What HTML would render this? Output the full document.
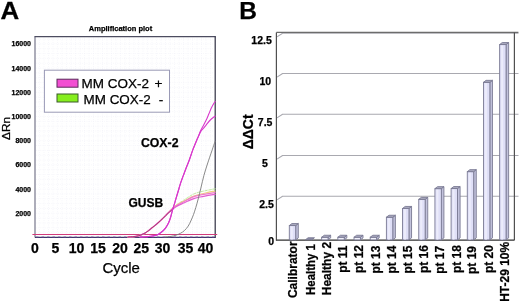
<!DOCTYPE html>
<html><head><meta charset="utf-8"><style>
html,body{margin:0;padding:0;background:#fff;}
svg{display:block;font-family:"Liberation Sans", sans-serif;will-change:transform;filter:blur(0.3px);}
text{stroke:#000;stroke-width:0.25px;paint-order:stroke;}
</style></head><body>
<svg width="520" height="305" viewBox="0 0 520 305">
<rect width="520" height="305" fill="#fff"/>
<text transform="translate(0.5,19.2) scale(1.07,1)" font-size="24.2" font-weight="bold">A</text>
<text x="239.2" y="19.2" font-size="24.5" font-weight="bold">B</text>
<text x="120.5" y="31" font-size="7.5" font-weight="bold" text-anchor="middle">Amplification plot</text>
<rect x="35" y="36.6" width="180.2" height="200.8" fill="#ffffff"/>
<path d="M39.5,37.6V236.4M44.0,37.6V236.4M48.5,37.6V236.4M53.0,37.6V236.4M57.5,37.6V236.4M62.0,37.6V236.4M66.5,37.6V236.4M71.0,37.6V236.4M75.5,37.6V236.4M80.0,37.6V236.4M84.5,37.6V236.4M89.0,37.6V236.4M93.5,37.6V236.4M98.0,37.6V236.4M102.5,37.6V236.4M107.0,37.6V236.4M111.5,37.6V236.4M116.0,37.6V236.4M120.5,37.6V236.4M125.0,37.6V236.4M129.5,37.6V236.4M134.0,37.6V236.4M138.5,37.6V236.4M143.0,37.6V236.4M147.5,37.6V236.4M152.0,37.6V236.4M156.5,37.6V236.4M161.0,37.6V236.4M165.5,37.6V236.4M170.0,37.6V236.4M174.5,37.6V236.4M179.0,37.6V236.4M183.5,37.6V236.4M188.0,37.6V236.4M192.5,37.6V236.4M197.0,37.6V236.4M201.5,37.6V236.4M206.0,37.6V236.4M210.5,37.6V236.4M36,232.7H214.2M36,227.8H214.2M36,223.0H214.2M36,218.1H214.2M36,213.3H214.2M36,208.5H214.2M36,203.6H214.2M36,198.8H214.2M36,193.9H214.2M36,189.1H214.2M36,184.3H214.2M36,179.4H214.2M36,174.6H214.2M36,169.7H214.2M36,164.9H214.2M36,160.1H214.2M36,155.2H214.2M36,150.4H214.2M36,145.5H214.2M36,140.7H214.2M36,135.9H214.2M36,131.0H214.2M36,126.2H214.2M36,121.3H214.2M36,116.5H214.2M36,111.7H214.2M36,106.8H214.2M36,102.0H214.2M36,97.1H214.2M36,92.3H214.2M36,87.5H214.2M36,82.6H214.2M36,77.8H214.2M36,72.9H214.2M36,68.1H214.2M36,63.3H214.2M36,58.4H214.2M36,53.6H214.2M36,48.7H214.2M36,43.9H214.2M36,39.1H214.2" stroke="#eeeef6" stroke-width="0.6" stroke-dasharray="0.8 1.4" fill="none"/>
<line x1="35" y1="36.6" x2="35" y2="237.4" stroke="#8a8a9c" stroke-width="1.4"/>
<line x1="34.5" y1="36.6" x2="215.79999999999998" y2="36.6" stroke="#4c4c60" stroke-width="1.3"/>
<line x1="215.2" y1="36.6" x2="215.2" y2="238.0" stroke="#2e2e42" stroke-width="1.2"/>
<line x1="35" y1="237.4" x2="215.2" y2="237.4" stroke="#3a3a66" stroke-width="1.3"/>
<text x="31" y="46.4" font-size="7" font-weight="bold" text-anchor="end">16000</text>
<text x="31" y="70.6" font-size="7" font-weight="bold" text-anchor="end">14000</text>
<text x="31" y="94.8" font-size="7" font-weight="bold" text-anchor="end">12000</text>
<text x="31" y="119.0" font-size="7" font-weight="bold" text-anchor="end">10000</text>
<text x="31" y="143.2" font-size="7" font-weight="bold" text-anchor="end">8000</text>
<text x="31" y="167.4" font-size="7" font-weight="bold" text-anchor="end">6000</text>
<text x="31" y="191.6" font-size="7" font-weight="bold" text-anchor="end">4000</text>
<text x="31" y="215.8" font-size="7" font-weight="bold" text-anchor="end">2000</text>
<text transform="translate(10.3,128.5) rotate(-90)" font-size="11.8" text-anchor="middle">ΔRn</text>
<rect x="44.4" y="70.2" width="125.1" height="42" fill="#ffffff" stroke="#9a9ab6" stroke-width="1"/>
<rect x="57" y="79.2" width="21" height="8" fill="#f24fd2" stroke="#5a2a5a" stroke-width="1"/>
<rect x="57" y="94" width="21" height="8" fill="#86ee1e" stroke="#3a5a2a" stroke-width="1"/>
<text x="81.6" y="88.4" font-size="13.6" textLength="67.4" lengthAdjust="spacingAndGlyphs">MM COX-2</text>
<text x="154.4" y="88.4" font-size="13.6">+</text>
<text x="83.5" y="104" font-size="13.6" textLength="67.2" lengthAdjust="spacingAndGlyphs">MM COX-2</text>
<text x="158.8" y="104" font-size="13.6">-</text>
<line x1="32.4" y1="234.4" x2="217.2" y2="234.4" stroke="#d23c7c" stroke-width="1.05"/>
<path d="M36,237.2 H214" stroke="#5a3c86" stroke-width="1.0" stroke-dasharray="2.5 3" fill="none"/>
<path d="M128.00,237.00 C129.00,236.93 132.50,236.73 134.00,236.60 C135.50,236.47 136.00,236.42 137.00,236.20 C138.00,235.98 138.75,235.77 140.00,235.30 C141.25,234.83 143.07,234.18 144.50,233.40 C145.93,232.62 147.35,231.53 148.60,230.60 C149.85,229.67 150.60,228.93 152.00,227.80 C153.40,226.67 155.10,225.45 157.00,223.80 C158.90,222.15 161.57,219.65 163.40,217.90 C165.23,216.15 166.32,215.03 168.00,213.30 C169.68,211.57 171.83,209.08 173.50,207.49 C175.17,205.90 176.30,204.99 178.00,203.77 C179.70,202.54 182.03,201.20 183.70,200.13 C185.37,199.07 186.30,198.40 188.00,197.36 C189.70,196.32 191.90,194.80 193.90,193.90 C195.90,192.99 197.82,192.51 200.00,191.93 C202.18,191.34 204.83,190.84 207.00,190.38 C209.17,189.92 211.63,189.43 213.00,189.17 C214.37,188.91 214.83,188.86 215.20,188.80" stroke="#bfeaa0" stroke-width="1.0" fill="none" stroke-linecap="round" stroke-dasharray="2.5 1.5"/>
<path d="M128.00,237.00 C129.00,236.93 132.50,236.73 134.00,236.60 C135.50,236.47 136.00,236.42 137.00,236.20 C138.00,235.98 138.75,235.77 140.00,235.30 C141.25,234.83 143.07,234.18 144.50,233.40 C145.93,232.62 147.35,231.53 148.60,230.60 C149.85,229.67 150.60,228.93 152.00,227.80 C153.40,226.67 155.10,225.45 157.00,223.80 C158.90,222.15 161.57,219.71 163.40,217.90 C165.23,216.09 166.32,214.68 168.00,212.95 C169.68,211.21 171.83,208.96 173.50,207.50 C175.17,206.03 176.30,205.22 178.00,204.17 C179.70,203.12 182.03,202.06 183.70,201.19 C185.37,200.31 186.30,199.75 188.00,198.90 C189.70,198.05 191.90,196.86 193.90,196.08 C195.90,195.30 197.82,194.78 200.00,194.20 C202.18,193.62 204.83,193.09 207.00,192.62 C209.17,192.15 211.63,191.65 213.00,191.38 C214.37,191.11 214.83,191.06 215.20,191.00" stroke="#ecd080" stroke-width="1.1" fill="none" stroke-linecap="round" />
<path d="M128.00,237.00 C129.00,236.93 132.50,236.73 134.00,236.60 C135.50,236.47 136.00,236.42 137.00,236.20 C138.00,235.98 138.75,235.77 140.00,235.30 C141.25,234.83 143.07,234.18 144.50,233.40 C145.93,232.62 147.35,231.53 148.60,230.60 C149.85,229.67 150.60,228.93 152.00,227.80 C153.40,226.67 155.10,225.48 157.00,223.80 C158.90,222.12 161.57,219.55 163.40,217.73 C165.23,215.91 166.32,214.55 168.00,212.90 C169.68,211.25 171.83,209.19 173.50,207.82 C175.17,206.46 176.30,205.71 178.00,204.70 C179.70,203.69 182.03,202.63 183.70,201.75 C185.37,200.88 186.30,200.31 188.00,199.47 C189.70,198.62 191.90,197.41 193.90,196.67 C195.90,195.94 197.82,195.53 200.00,195.05 C202.18,194.57 204.83,194.18 207.00,193.82 C209.17,193.46 211.63,193.08 213.00,192.88 C214.37,192.68 214.83,192.65 215.20,192.60" stroke="#f07ccc" stroke-width="1.2" fill="none" stroke-linecap="round" />
<path d="M128.00,237.00 C129.00,236.93 132.50,236.73 134.00,236.60 C135.50,236.47 136.00,236.42 137.00,236.20 C138.00,235.98 138.75,235.77 140.00,235.30 C141.25,234.83 143.07,234.18 144.50,233.40 C145.93,232.62 147.35,231.53 148.60,230.60 C149.85,229.67 150.60,228.93 152.00,227.80 C153.40,226.67 155.10,225.45 157.00,223.80 C158.90,222.15 161.57,219.65 163.40,217.90 C165.23,216.15 166.32,214.87 168.00,213.30 C169.68,211.73 171.83,209.78 173.50,208.50 C175.17,207.22 176.30,206.52 178.00,205.60 C179.70,204.68 182.03,203.77 183.70,203.00 C185.37,202.23 186.30,201.73 188.00,201.00 C189.70,200.27 191.90,199.27 193.90,198.60 C195.90,197.93 197.82,197.48 200.00,197.00 C202.18,196.52 204.83,196.08 207.00,195.70 C209.17,195.32 211.63,194.92 213.00,194.70 C214.37,194.48 214.83,194.45 215.20,194.40" stroke="#e25ed2" stroke-width="1.2" fill="none" stroke-linecap="round" />
<path d="M128.00,237.00 C129.00,236.93 132.50,236.73 134.00,236.60 C135.50,236.47 136.00,236.42 137.00,236.20 C138.00,235.98 138.75,235.77 140.00,235.30 C141.25,234.83 143.07,234.18 144.50,233.40 C145.93,232.62 147.35,231.53 148.60,230.60 C149.85,229.67 150.60,228.93 152.00,227.80 C153.40,226.67 155.10,225.45 157.00,223.80 C158.90,222.15 161.57,219.65 163.40,217.90 C165.23,216.15 166.32,214.87 168.00,213.30 C169.68,211.73 172.58,209.30 173.50,208.50" stroke="#9c3458" stroke-width="0.8" fill="none" stroke-linecap="round" />
<path d="M165.00,237.00 C166.00,236.90 169.17,236.70 171.00,236.40 C172.83,236.10 174.40,235.73 176.00,235.20 C177.60,234.67 179.20,233.97 180.60,233.20 C182.00,232.43 183.13,231.78 184.40,230.60 C185.67,229.42 187.13,227.70 188.20,226.10 C189.27,224.50 189.92,222.92 190.80,221.00 C191.68,219.08 192.67,216.85 193.50,214.60 C194.33,212.35 195.02,210.10 195.80,207.50 C196.58,204.90 197.35,202.25 198.20,199.00 C199.05,195.75 199.95,191.92 200.90,188.00 C201.85,184.08 202.87,179.33 203.90,175.50 C204.93,171.67 206.13,168.05 207.10,165.00 C208.07,161.95 208.90,159.57 209.70,157.20 C210.50,154.83 211.17,152.97 211.90,150.80 C212.63,148.63 213.55,145.77 214.10,144.20 C214.65,142.63 215.02,141.87 215.20,141.40" stroke="#7c7c7c" stroke-width="0.9" fill="none" stroke-linecap="round" />
<path d="M140.00,237.00 C141.17,236.95 145.17,236.83 147.00,236.70 C148.83,236.57 149.83,236.38 151.00,236.20 C152.17,236.02 152.98,235.82 154.00,235.60 C155.02,235.38 155.88,235.45 157.10,234.90 C158.32,234.35 159.90,233.43 161.30,232.30 C162.70,231.17 164.28,229.68 165.50,228.10 C166.72,226.52 167.73,224.65 168.60,222.80 C169.47,220.95 170.00,219.30 170.70,217.00 C171.40,214.70 172.10,211.45 172.80,209.00 C173.50,206.55 174.22,204.55 174.90,202.30 C175.58,200.05 176.22,197.80 176.90,195.50 C177.58,193.20 178.32,190.78 179.00,188.50 C179.68,186.22 180.30,183.90 181.00,181.80 C181.70,179.70 182.47,177.87 183.20,175.90 C183.93,173.93 184.37,172.70 185.40,170.00 C186.43,167.30 188.17,163.05 189.40,159.70 C190.63,156.35 191.57,153.18 192.80,149.90 C194.03,146.62 195.87,142.25 196.80,140.00 C197.73,137.75 197.73,137.83 198.40,136.40 C199.07,134.97 199.82,132.92 200.80,131.40 C201.78,129.88 203.33,128.47 204.30,127.30 C205.27,126.13 205.60,125.62 206.60,124.40 C207.60,123.18 209.08,121.23 210.30,120.00 C211.52,118.77 213.08,117.63 213.90,117.00 C214.72,116.37 214.98,116.33 215.20,116.20" stroke="#d838cc" stroke-width="1.1" fill="none" stroke-linecap="round" />
<path d="M140.00,237.00 C141.17,236.95 145.17,236.83 147.00,236.70 C148.83,236.57 149.83,236.38 151.00,236.20 C152.17,236.02 152.98,235.82 154.00,235.60 C155.02,235.38 155.88,235.45 157.10,234.90 C158.32,234.35 159.90,233.43 161.30,232.30 C162.70,231.17 164.28,229.68 165.50,228.10 C166.72,226.52 167.73,224.65 168.60,222.80 C169.47,220.95 170.00,219.30 170.70,217.00 C171.40,214.70 172.10,211.45 172.80,209.00 C173.50,206.55 174.22,204.55 174.90,202.30 C175.58,200.05 176.22,197.80 176.90,195.50 C177.58,193.20 178.32,190.78 179.00,188.50 C179.68,186.22 180.30,183.90 181.00,181.80 C181.70,179.70 182.47,177.87 183.20,175.90 C183.93,173.93 184.37,172.70 185.40,170.00 C186.43,167.30 188.17,163.05 189.40,159.70 C190.63,156.35 191.57,153.18 192.80,149.90 C194.03,146.62 195.87,142.25 196.80,140.00 C197.73,137.75 197.77,137.93 198.40,136.40 C199.03,134.87 199.70,132.73 200.60,130.80 C201.50,128.87 202.80,126.72 203.80,124.80 C204.80,122.88 205.75,121.13 206.60,119.30 C207.45,117.47 208.13,115.63 208.90,113.80 C209.67,111.97 210.37,110.07 211.20,108.30 C212.03,106.53 213.23,104.32 213.90,103.20 C214.57,102.08 214.98,101.87 215.20,101.60" stroke="#d838cc" stroke-width="1.1" fill="none" stroke-linecap="round" />
<text x="140.9" y="146.8" font-size="12.3" font-weight="bold">COX-2</text>
<text x="128.5" y="207.1" font-size="12" font-weight="bold">GUSB</text>
<text x="35.0" y="253" font-size="14" font-weight="bold" text-anchor="middle">0</text>
<text x="55.4" y="253" font-size="14" font-weight="bold" text-anchor="middle">5</text>
<text x="76.6" y="253" font-size="14" font-weight="bold" text-anchor="middle">10</text>
<text x="98.0" y="253" font-size="14" font-weight="bold" text-anchor="middle">15</text>
<text x="120.1" y="253" font-size="14" font-weight="bold" text-anchor="middle">20</text>
<text x="141.3" y="253" font-size="14" font-weight="bold" text-anchor="middle">25</text>
<text x="162.6" y="253" font-size="14" font-weight="bold" text-anchor="middle">30</text>
<text x="185.6" y="253" font-size="14" font-weight="bold" text-anchor="middle">35</text>
<text x="205.6" y="253" font-size="14" font-weight="bold" text-anchor="middle">40</text>
<text x="121.2" y="272.9" font-size="15" text-anchor="middle">Cycle</text>
<path d="M277.0,36.9 L282.59999999999997,33.3 H518.5" stroke="#a9a9b0" stroke-width="1.1" fill="none" stroke-linejoin="round"/>
<path d="M277.0,77.1 L282.59999999999997,73.5 H518.5" stroke="#a9a9b0" stroke-width="1.1" fill="none" stroke-linejoin="round"/>
<path d="M277.0,117.9 L282.59999999999997,114.3 H518.5" stroke="#a9a9b0" stroke-width="1.1" fill="none" stroke-linejoin="round"/>
<path d="M277.0,159.1 L282.59999999999997,155.5 H518.5" stroke="#a9a9b0" stroke-width="1.1" fill="none" stroke-linejoin="round"/>
<path d="M277.0,199.9 L282.59999999999997,196.3 H518.5" stroke="#a9a9b0" stroke-width="1.1" fill="none" stroke-linejoin="round"/>
<line x1="276.4" y1="32.4" x2="518.4" y2="32.4" stroke="#6c6c6c" stroke-width="1.1"/>
<line x1="514.4" y1="32.4" x2="514.4" y2="240.2" stroke="#505050" stroke-width="1.2"/>
<line x1="276.4" y1="32.4" x2="276.4" y2="240.7" stroke="#505050" stroke-width="1.2"/>
<line x1="276.4" y1="240.2" x2="514.4" y2="240.2" stroke="#303030" stroke-width="1.3"/>
<text x="261.55" y="43.95" font-size="10.5" font-weight="bold" text-anchor="middle">12.5</text>
<text x="265.3" y="84.70" font-size="10.5" font-weight="bold" text-anchor="middle">10</text>
<text x="265.15" y="125.85" font-size="10.5" font-weight="bold" text-anchor="middle">7.5</text>
<text x="265.0" y="166.70" font-size="10.5" font-weight="bold" text-anchor="middle">5</text>
<text x="266.45" y="207.65" font-size="10.5" font-weight="bold" text-anchor="middle">2.5</text>
<text x="271.1" y="244.60" font-size="10.5" font-weight="bold" text-anchor="middle">0</text>
<text transform="translate(252.5,131.9) rotate(-90)" font-size="14" font-weight="bold" text-anchor="middle">ΔΔCt</text>
<polygon points="295.70,239.9 298.30,237.9 298.30,223.55 295.70,225.55" fill="#c2c2dc" stroke="#7a7a94" stroke-width="0.9" stroke-linejoin="round"/>
<rect x="289.30" y="225.55" width="6.4" height="14.35" fill="#dfdff7" stroke="#7a7a94" stroke-width="0.9"/>
<rect x="290.80" y="226.35" width="2" height="13.15" fill="#ececfb"/>
<polygon points="289.30,225.55 291.90,223.55 298.30,223.55 295.70,225.55" fill="#ababc0" stroke="#7a7a94" stroke-width="0.9" stroke-linejoin="round"/>
<text transform="translate(297.10,241.4) rotate(-90)" font-size="12" font-weight="bold" text-anchor="end">Calibrator</text>
<polygon points="305.48,239.75 308.08,237.75 314.48,237.75 311.88,239.75" fill="#8c8ca8" stroke="#7a7a94" stroke-width="0.9" stroke-linejoin="round"/>
<text transform="translate(314.98,244.0) rotate(-90)" font-size="12" font-weight="bold" text-anchor="end" textLength="51" lengthAdjust="spacingAndGlyphs">Healthy 1</text>
<polygon points="328.06,239.9 330.66,237.9 330.66,235.25 328.06,237.25" fill="#c2c2dc" stroke="#7a7a94" stroke-width="0.9" stroke-linejoin="round"/>
<rect x="321.66" y="237.25" width="6.4" height="2.65" fill="#f2f2fc" stroke="#7a7a94" stroke-width="0.9"/>
<polygon points="321.66,237.25 324.26,235.25 330.66,235.25 328.06,237.25" fill="#ababc0" stroke="#7a7a94" stroke-width="0.9" stroke-linejoin="round"/>
<text transform="translate(331.16,241.9) rotate(-90)" font-size="12" font-weight="bold" text-anchor="end">Healthy 2</text>
<polygon points="344.24,239.9 346.84,237.9 346.84,235.25 344.24,237.25" fill="#c2c2dc" stroke="#7a7a94" stroke-width="0.9" stroke-linejoin="round"/>
<rect x="337.84" y="237.25" width="6.4" height="2.65" fill="#f2f2fc" stroke="#7a7a94" stroke-width="0.9"/>
<polygon points="337.84,237.25 340.44,235.25 346.84,235.25 344.24,237.25" fill="#ababc0" stroke="#7a7a94" stroke-width="0.9" stroke-linejoin="round"/>
<text transform="translate(347.24,245.5) rotate(-90)" font-size="12" font-weight="bold" text-anchor="end">pt 11</text>
<polygon points="360.42,239.9 363.02,237.9 363.02,235.25 360.42,237.25" fill="#c2c2dc" stroke="#7a7a94" stroke-width="0.9" stroke-linejoin="round"/>
<rect x="354.02" y="237.25" width="6.4" height="2.65" fill="#f2f2fc" stroke="#7a7a94" stroke-width="0.9"/>
<polygon points="354.02,237.25 356.62,235.25 363.02,235.25 360.42,237.25" fill="#ababc0" stroke="#7a7a94" stroke-width="0.9" stroke-linejoin="round"/>
<text transform="translate(363.42,245.0) rotate(-90)" font-size="12" font-weight="bold" text-anchor="end">pt 12</text>
<polygon points="376.60,239.9 379.20,237.9 379.20,235.25 376.60,237.25" fill="#c2c2dc" stroke="#7a7a94" stroke-width="0.9" stroke-linejoin="round"/>
<rect x="370.20" y="237.25" width="6.4" height="2.65" fill="#f2f2fc" stroke="#7a7a94" stroke-width="0.9"/>
<polygon points="370.20,237.25 372.80,235.25 379.20,235.25 376.60,237.25" fill="#ababc0" stroke="#7a7a94" stroke-width="0.9" stroke-linejoin="round"/>
<text transform="translate(379.60,245.6) rotate(-90)" font-size="12" font-weight="bold" text-anchor="end">pt 13</text>
<polygon points="392.78,239.9 395.38,237.9 395.38,215.25 392.78,217.25" fill="#c2c2dc" stroke="#7a7a94" stroke-width="0.9" stroke-linejoin="round"/>
<rect x="386.38" y="217.25" width="6.4" height="22.65" fill="#dfdff7" stroke="#7a7a94" stroke-width="0.9"/>
<rect x="387.88" y="218.05" width="2" height="21.45" fill="#ececfb"/>
<polygon points="386.38,217.25 388.98,215.25 395.38,215.25 392.78,217.25" fill="#ababc0" stroke="#7a7a94" stroke-width="0.9" stroke-linejoin="round"/>
<text transform="translate(395.78,245.6) rotate(-90)" font-size="12" font-weight="bold" text-anchor="end">pt 14</text>
<polygon points="408.96,239.9 411.56,237.9 411.56,206.45 408.96,208.45" fill="#c2c2dc" stroke="#7a7a94" stroke-width="0.9" stroke-linejoin="round"/>
<rect x="402.56" y="208.45" width="6.4" height="31.45" fill="#dfdff7" stroke="#7a7a94" stroke-width="0.9"/>
<rect x="404.06" y="209.25" width="2" height="30.25" fill="#ececfb"/>
<polygon points="402.56,208.45 405.16,206.45 411.56,206.45 408.96,208.45" fill="#ababc0" stroke="#7a7a94" stroke-width="0.9" stroke-linejoin="round"/>
<text transform="translate(411.96,245.6) rotate(-90)" font-size="12" font-weight="bold" text-anchor="end">pt 15</text>
<polygon points="425.14,239.9 427.74,237.9 427.74,197.35 425.14,199.35" fill="#c2c2dc" stroke="#7a7a94" stroke-width="0.9" stroke-linejoin="round"/>
<rect x="418.74" y="199.35" width="6.4" height="40.55" fill="#dfdff7" stroke="#7a7a94" stroke-width="0.9"/>
<rect x="420.24" y="200.15" width="2" height="39.35" fill="#ececfb"/>
<polygon points="418.74,199.35 421.34,197.35 427.74,197.35 425.14,199.35" fill="#ababc0" stroke="#7a7a94" stroke-width="0.9" stroke-linejoin="round"/>
<text transform="translate(428.14,245.1) rotate(-90)" font-size="12" font-weight="bold" text-anchor="end">pt 16</text>
<polygon points="441.32,239.9 443.92,237.9 443.92,186.65 441.32,188.65" fill="#c2c2dc" stroke="#7a7a94" stroke-width="0.9" stroke-linejoin="round"/>
<rect x="434.92" y="188.65" width="6.4" height="51.25" fill="#dfdff7" stroke="#7a7a94" stroke-width="0.9"/>
<rect x="436.42" y="189.45" width="2" height="50.05" fill="#ececfb"/>
<polygon points="434.92,188.65 437.52,186.65 443.92,186.65 441.32,188.65" fill="#ababc0" stroke="#7a7a94" stroke-width="0.9" stroke-linejoin="round"/>
<text transform="translate(444.32,245.8) rotate(-90)" font-size="12" font-weight="bold" text-anchor="end">pt 17</text>
<polygon points="457.50,239.9 460.10,237.9 460.10,186.55 457.50,188.55" fill="#c2c2dc" stroke="#7a7a94" stroke-width="0.9" stroke-linejoin="round"/>
<rect x="451.10" y="188.55" width="6.4" height="51.35" fill="#dfdff7" stroke="#7a7a94" stroke-width="0.9"/>
<rect x="452.60" y="189.35" width="2" height="50.15" fill="#ececfb"/>
<polygon points="451.10,188.55 453.70,186.55 460.10,186.55 457.50,188.55" fill="#ababc0" stroke="#7a7a94" stroke-width="0.9" stroke-linejoin="round"/>
<text transform="translate(460.50,245.1) rotate(-90)" font-size="12" font-weight="bold" text-anchor="end">pt 18</text>
<polygon points="473.68,239.9 476.28,237.9 476.28,169.65 473.68,171.65" fill="#c2c2dc" stroke="#7a7a94" stroke-width="0.9" stroke-linejoin="round"/>
<rect x="467.28" y="171.65" width="6.4" height="68.25" fill="#dfdff7" stroke="#7a7a94" stroke-width="0.9"/>
<rect x="468.78" y="172.45" width="2" height="67.05" fill="#ececfb"/>
<polygon points="467.28,171.65 469.88,169.65 476.28,169.65 473.68,171.65" fill="#ababc0" stroke="#7a7a94" stroke-width="0.9" stroke-linejoin="round"/>
<text transform="translate(476.38,246.0) rotate(-90)" font-size="12" font-weight="bold" text-anchor="end">pt 19</text>
<polygon points="489.86,239.9 492.46,237.9 492.46,80.35 489.86,82.35" fill="#c2c2dc" stroke="#7a7a94" stroke-width="0.9" stroke-linejoin="round"/>
<rect x="483.46" y="82.35" width="6.4" height="157.55" fill="#dfdff7" stroke="#7a7a94" stroke-width="0.9"/>
<rect x="484.96" y="83.15" width="2" height="156.35" fill="#ececfb"/>
<polygon points="483.46,82.35 486.06,80.35 492.46,80.35 489.86,82.35" fill="#ababc0" stroke="#7a7a94" stroke-width="0.9" stroke-linejoin="round"/>
<text transform="translate(492.86,245.1) rotate(-90)" font-size="12" font-weight="bold" text-anchor="end">pt 20</text>
<polygon points="506.04,239.9 508.64,237.9 508.64,42.55 506.04,44.55" fill="#c2c2dc" stroke="#7a7a94" stroke-width="0.9" stroke-linejoin="round"/>
<rect x="499.64" y="44.55" width="6.4" height="195.35" fill="#dfdff7" stroke="#7a7a94" stroke-width="0.9"/>
<rect x="501.14" y="45.35" width="2" height="194.15" fill="#ececfb"/>
<polygon points="499.64,44.55 502.24,42.55 508.64,42.55 506.04,44.55" fill="#ababc0" stroke="#7a7a94" stroke-width="0.9" stroke-linejoin="round"/>
<text transform="translate(509.14,241.8) rotate(-90)" font-size="12" font-weight="bold" text-anchor="end">HT-29 10%</text>
</svg>
</body></html>
